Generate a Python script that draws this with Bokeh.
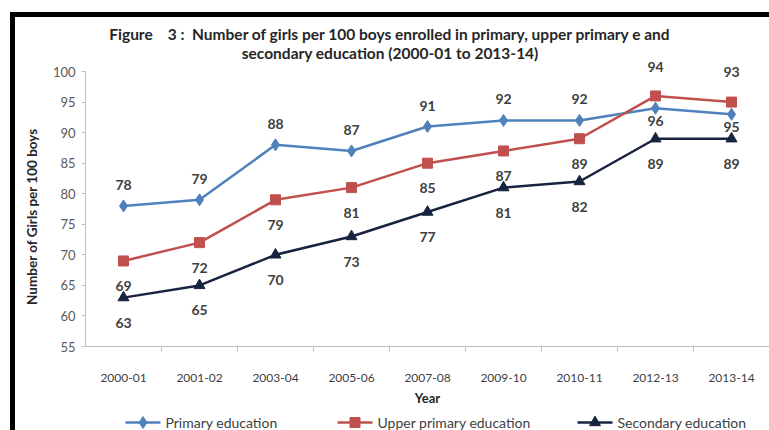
from bokeh.plotting import figure
from bokeh.models import (FactorRange, Range1d, CategoricalAxis, FixedTicker, Label,
                          LabelSet, ColumnDataSource)
from bokeh.core.properties import value
from bokeh.layouts import column
from bokeh.embed import file_html
from bokeh.resources import INLINE

# ---- data ----
years = ["2000-01", "2001-02", "2003-04", "2005-06", "2007-08",
         "2009-10", "2010-11", "2012-13", "2013-14"]
primary = [78, 79, 88, 87, 91, 92, 92, 94, 93]
upper_primary = [69, 72, 79, 81, 85, 87, 89, 96, 95]
secondary = [63, 65, 70, 73, 77, 81, 82, 89, 89]
y_ticks = [55, 60, 65, 70, 75, 80, 85, 90, 95, 100]
title_line1 = "Number of girls per 100 boys enrolled in primary, upper primary e and"
title_line2 = "secondary education (2000-01 to 2013-14)"
series_names = ["Primary education", "Upper primary education", "Secondary education"]

# ---- styles ----
FONT = "Lato"
C_PRI = "#4F81BD"
C_UPP = "#C0504D"
C_SEC = "#17233F"
TXT = "#404040"
AXC = "#BFBFBF"
NB = "\u00a0"
# data-label vertical offsets (px, positive = up)
primary_dy = [21, 21, 21, 21, 21, 21, 21, 41, 42]
upper_dy = [-25] * 9
secondary_dy = [-25] * 9
# legend strip layout (page pixels)
leg_x0 = [125, 337, 577]
leg_w = 35
leg_y = 422

# plot area reaches the top of the figure so the highest labels and the
# two title lines can sit above the 100 line; the axis itself stops at 100
p = figure(x_range=FactorRange(*years), y_range=Range1d(55, 108.84),
           width=754, height=393, output_backend="svg", toolbar_location=None,
           min_border_left=70, min_border_right=0,
           min_border_top=0, min_border_bottom=64)
p.title.text = ""
p.title.visible = False
p.xgrid.visible = False
p.ygrid.visible = False
p.outline_line_color = None
p.background_fill_color = "white"
p.border_fill_color = "white"

# y axis
ya = p.yaxis[0]
ya.ticker = FixedTicker(ticks=y_ticks)
ya.bounds = (55, 100)
ya.axis_line_color = AXC
ya.major_tick_line_color = AXC
ya.minor_tick_line_color = None
ya.major_tick_in = 0
ya.major_tick_out = 4
ya.major_label_standoff = 6
ya.major_label_text_font = FONT
ya.major_label_text_font_size = "13px"
ya.major_label_text_color = "#595959"
ya.axis_label = "Number of Girls per 100 boys" + NB * 21
ya.axis_label_text_font = FONT
ya.axis_label_text_font_style = "bold"
ya.axis_label_text_font_size = "13.5px"
ya.axis_label_text_color = "#262626"
ya.axis_label_standoff = 10

# categorical x axis (labels only)
xa = p.xaxis[0]
xa.axis_line_color = None
xa.major_tick_line_color = None
xa.major_label_standoff = 16
xa.major_label_text_font = FONT
xa.major_label_text_font_size = "12px"
xa.major_label_text_color = "#404040"
xa.axis_label = "Year"
xa.axis_label_text_font = FONT
xa.axis_label_text_font_style = "bold"
xa.axis_label_text_font_size = "13px"
xa.axis_label_text_color = "#262626"
xa.axis_label_standoff = 5

# boundary ticks between categories: a factor range of the 10 edges,
# trimmed by half a factor on each side so that edge i falls on boundary i
edges = ["e%d" % i for i in range(len(years) + 1)]
p.extra_x_ranges = {"edges": FactorRange(*edges, range_padding=-0.1,
                                         range_padding_units="percent")}
edge_axis = CategoricalAxis(x_range_name="edges",
                            axis_line_color=AXC, major_tick_line_color=AXC,
                            major_tick_in=0, major_tick_out=5,
                            major_label_text_font_size="1px",
                            major_label_text_alpha=0, major_label_standoff=0)
p.below = [edge_axis] + list(p.below)

# series
p.line(years, primary, color=C_PRI, line_width=2.5)
p.scatter(years, primary, marker="diamond", size=12, color=C_PRI)
p.line(years, upper_primary, color=C_UPP, line_width=2.5)
p.scatter(years, upper_primary, marker="square", size=10, color=C_UPP)
p.line(years, secondary, color=C_SEC, line_width=2.5)
p.scatter(years, secondary, marker="triangle", size=11, color=C_SEC)

for vals, dy in ((primary, primary_dy), (upper_primary, upper_dy), (secondary, secondary_dy)):
    src = ColumnDataSource(dict(x=years, y=vals, t=[str(v) for v in vals], dy=dy))
    p.add_layout(LabelSet(x="x", y="y", text="t", y_offset="dy", source=src,
                          text_align="center", text_baseline="middle",
                          text_font=value(FONT), text_font_style="bold",
                          text_font_size="14px", text_color=TXT))

# title lines
p.add_layout(Label(x=4.01, y=106.22,
                   text="Figure" + NB * 4 + "3" + NB + ":" + NB * 2 + title_line1,
                   text_align="center", text_baseline="middle", text_font=FONT,
                   text_font_style="bold", text_font_size="15.5px",
                   text_color="#262626"))
p.add_layout(Label(x=4.01, y=102.95, text=title_line2,
                   text_align="center", text_baseline="middle", text_font=FONT,
                   text_font_style="bold", text_font_size="15.5px",
                   text_color="#262626"))

# legend strip under the chart (its plot area is aligned with the chart's,
# so its x range is expressed in page pixels 85..769, y in 410..430)
lg = figure(width=754, height=20, output_backend="svg", toolbar_location=None,
            x_range=Range1d(85, 769), y_range=Range1d(430, 410),
            min_border_left=70, min_border_right=0, min_border_top=0,
            min_border_bottom=0, x_axis_location=None, y_axis_location=None)
lg.title.visible = False
lg.xgrid.visible = False
lg.ygrid.visible = False
lg.outline_line_color = None
lg.background_fill_color = "white"
lg.border_fill_color = "white"
leg_src = ColumnDataSource(dict(
    x0=leg_x0, x1=[x + leg_w for x in leg_x0], xm=[x + leg_w / 2 for x in leg_x0],
    xt=[x + leg_w + 5 for x in leg_x0], y=[leg_y] * 3, name=series_names,
    color=[C_PRI, C_UPP, C_SEC], marker=["diamond", "square", "triangle"],
    size=[12, 10, 11]))
lg.segment(x0="x0", y0="y", x1="x1", y1="y", color="color", line_width=2.5, source=leg_src)
lg.scatter(x="xm", y="y", marker="marker", size="size", color="color", source=leg_src)
lg.text(x="xt", y="y", text="name", source=leg_src, text_align="left",
        text_baseline="middle", text_font=value(FONT), text_font_size="14px",
        text_color=TXT)

page = column(p, lg, styles={"margin-left": "10px", "margin-top": "12px",
                             "border-left": "5px solid black",
                             "border-top": "5px solid black"})

open("out.html", "w").write(file_html(page, INLINE))
